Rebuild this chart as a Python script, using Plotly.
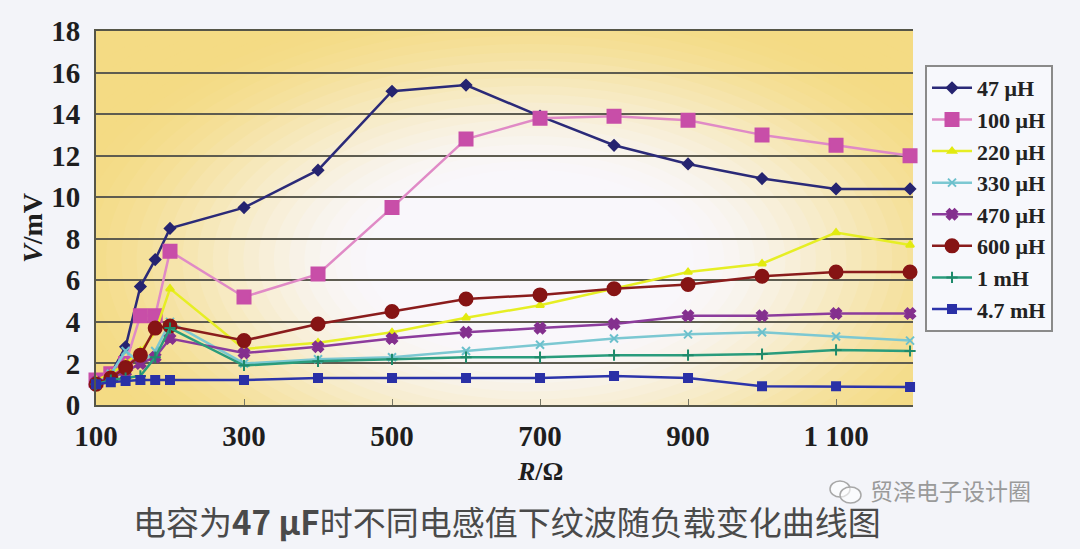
import plotly.graph_objects as go

# ---------------- data ----------------
R = [100, 120, 140, 160, 180, 200, 300, 400, 500, 600, 700, 800, 900, 1000, 1100, 1200]

series_names = ["47 μH", "100 μH", "220 μH", "330 μH", "470 μH", "600 μH", "1 mH", "4.7 mH"]

v_47uH  = [1.0, 1.5, 2.8, 5.7, 7.0, 8.5, 9.5, 11.3, 15.1, 15.4, 13.9, 12.5, 11.6, 10.9, 10.4, 10.4]
v_100uH = [1.2, 1.5, 2.0, 4.3, 4.3, 7.4, 5.2, 6.3, 9.5, 12.8, 13.8, 13.9, 13.7, 13.0, 12.5, 12.0]
v_220uH = [1.2, 1.5, 2.0, 2.6, 3.5, 5.6, 2.7, 3.0, 3.5, 4.2, 4.8, 5.6, 6.4, 6.8, 8.3, 7.7]
v_330uH = [1.0, 1.5, 2.6, 2.0, 2.6, 4.0, 2.0, 2.2, 2.3, 2.6, 2.9, 3.2, 3.4, 3.5, 3.3, 3.1]
v_470uH = [1.1, 1.3, 1.6, 2.0, 2.3, 3.2, 2.5, 2.8, 3.2, 3.5, 3.7, 3.9, 4.3, 4.3, 4.4, 4.4]
v_600uH = [1.0, 1.3, 1.8, 2.4, 3.7, 3.8, 3.1, 3.9, 4.5, 5.1, 5.3, 5.6, 5.8, 6.2, 6.4, 6.4]
v_1mH   = [1.0, 1.2, 1.3, 1.4, 2.3, 3.7, 1.9, 2.1, 2.2, 2.3, 2.3, 2.4, 2.4, 2.45, 2.65, 2.6]
v_4_7mH = [1.0, 1.1, 1.15, 1.2, 1.2, 1.2, 1.2, 1.3, 1.3, 1.3, 1.3, 1.4, 1.3, 0.9, 0.9, 0.87]

series_values = [v_47uH, v_100uH, v_220uH, v_330uH, v_470uH, v_600uH, v_1mH, v_4_7mH]

x_tick_vals = [100, 300, 500, 700, 900, 1100]
x_tick_text = ["100", "300", "500", "700", "900", "1 100"]
y_tick_vals = [0, 2, 4, 6, 8, 10, 12, 14, 16, 18]

# ---------------- styles ----------------
line_colors = ["#2b2a78", "#e08ac6", "#e6ee24", "#7cc8d2", "#8c3c9c", "#8a1c1c", "#2a9c7c", "#2c34aa"]
marker_colors = ["#262470", "#c84ea8", "#e2ea10", "#6cc0cc", "#84308e", "#861414", "#1e8a6a", "#2a30a6"]
marker_symbols = ["diamond", "square", "triangle-up", "x-thin-open", "x", "circle", "cross-thin-open", "square"]
marker_sizes = [8, 13, 7, 8, 9, 13, 8, 8]

fig = go.Figure()

for name, vals, lc, mc, sym, ms in zip(series_names, series_values, line_colors,
                                        marker_colors, marker_symbols, marker_sizes):
    fig.add_trace(go.Scatter(
        x=R, y=vals, name=name, mode="lines+markers", legendgroup=name,
        line=dict(color=lc, width=2.5),
        marker=dict(symbol=sym, size=ms, color=mc, line=dict(color=mc, width=2)),
        cliponaxis=False,
    ))

# ---------------- radial gradient background (yellow edges, white centre) ----------------
cx, cy = 686, 7.0
rx, ry = 640, 12.5
outer = (244, 219, 132)
inner = (249, 247, 251)
N = 46
shapes = []
for i in range(N):
    t = 1.7 - i * (1.7 - 0.25) / (N - 1)
    s = min(max((t - 0.32) / 0.72, 0.0), 1.0)
    s = s * s * (3 - 2 * s)
    col = tuple(int(round(inner[k] + (outer[k] - inner[k]) * s)) for k in range(3))
    shapes.append(dict(
        type="circle", xref="x", yref="y", layer="below",
        x0=cx - rx * t, x1=cx + rx * t, y0=cy - ry * t, y1=cy + ry * t,
        fillcolor="rgb(%d,%d,%d)" % col, line=dict(width=0),
    ))

serif = "Liberation Serif, Times New Roman, serif"

fig.update_layout(
    width=1080, height=549,
    margin=dict(l=96, r=167, t=31, b=144),
    paper_bgcolor="#f3f4f9",
    plot_bgcolor="#f4dc86",
    shapes=shapes,
    showlegend=True,
    legend=dict(
        x=1.0147, y=0.909, xanchor="left", yanchor="top",
        bgcolor="#f7f8fc", bordercolor="#8a8a8a", borderwidth=2,
        font=dict(family=serif, size=22, color="#222222", weight="bold"),
        tracegroupgap=0, itemwidth=40,
    ),
    font=dict(family=serif, color="#1e1e1e"),
)

fig.update_xaxes(
    range=[100, 1204], tickvals=x_tick_vals, ticktext=x_tick_text,
    showgrid=False, zeroline=False,
    showline=True, linecolor="#555548", linewidth=2, mirror=True,
    ticks="inside", ticklen=6, tickcolor="#777766",
    tickfont=dict(family=serif, size=29, color="#1e1e1e", weight="bold"),
    ticklabelstandoff=4,
)
fig.update_yaxes(
    range=[0, 18], tickvals=y_tick_vals,
    showgrid=True, gridcolor="#5e5c50", gridwidth=2, zeroline=False,
    showline=True, linecolor="#555548", linewidth=2,
    tickfont=dict(family=serif, size=29, color="#1e1e1e", weight="bold"),
    ticklabelstandoff=8,
)

annotations = [
    dict(text="<b><i>R</i>/Ω</b>", x=540, y=471, showarrow=False,
         font=dict(family=serif, size=26, color="#1e1e1e")),
    dict(text="<b><i>V</i>/mV</b>", x=32, y=228, textangle=-90, showarrow=False,
         font=dict(family=serif, size=28, color="#1e1e1e")),
    dict(text="电容为<b>47 μF</b>时不同电感值下纹波随负载变化曲线图", x=507, y=521,
         showarrow=False, font=dict(family="Noto Sans CJK SC", size=33, color="#4a4a4a")),
    dict(text="贸泽电子设计圈", x=950, y=490, showarrow=False,
         font=dict(family="Noto Sans CJK SC", size=23, color="#9a9a9a")),
]
# convert pixel positions to paper coordinates
for a in annotations:
    a["xref"] = "paper"
    a["yref"] = "paper"
    a["x"] = (a["x"] - 96) / (1080 - 96 - 167)
    a["y"] = (549 - 144 - a["y"]) / (549 - 31 - 144)
    a["xanchor"] = "center"
    a["yanchor"] = "middle"
fig.update_layout(annotations=annotations)

# small WeChat-like watermark icon
def px2paper(x, y):
    return (x - 96) / 817, (405 - y) / 374

icon = []
for (x0, y0, x1, y1) in [(830, 481, 850, 497), (840, 487, 861, 503)]:
    a0, b1 = px2paper(x0, y0)
    a1, b0 = px2paper(x1, y1)
    icon.append(dict(type="circle", xref="paper", yref="paper", x0=a0, x1=a1, y0=b0, y1=b1,
                     line=dict(color="#a8a8a8", width=1.5), fillcolor="rgba(255,255,255,0.6)"))
fig.update_layout(shapes=list(fig.layout.shapes) + icon)

fig.write_html("out.html")
